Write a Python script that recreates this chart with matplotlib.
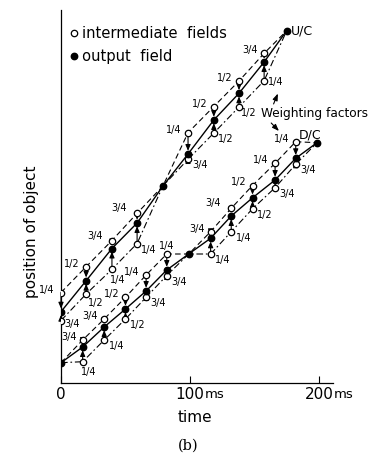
import matplotlib
matplotlib.use("Agg")
import numpy as np
import matplotlib.pyplot as plt
from matplotlib.lines import Line2D

# U/C (up-conversion): output fields ~every 20 ms
uc_time = [0, 19.5, 39.5, 59, 79, 98.5, 118.5, 138, 157.5, 175]
uc_output = [71.3, 102.3, 134.5, 160, 197, 229, 263, 289.7, 321, 352.3]
uc_upper = [90.5, 116.3, 142.5, 169.7, None, 250.3, 276.5, 302, 329.7, None]
uc_lower = [62.5, 89, 113.7, 139.5, None, 223.7, 250, 276, 302.3, None]
uc_upper_w = ["1/4", "1/2", "3/4", "3/4", "", "1/4", "1/2", "1/2", "3/4", ""]
uc_lower_w = ["3/4", "1/2", "1/4", "1/4", "", "3/4", "1/2", "1/2", "1/4", ""]

# D/C (down-conversion): output fields ~every 16.7 ms
dc_time = [0, 16.8, 33.5, 50, 66, 82, 99, 116, 132, 148.5, 166, 182, 198.5]
dc_output = [20.3, 36, 56, 74, 92, 113, 129, 144.7, 167, 185.2, 203, 224.7, 240.3]
dc_upper = [None, 43, 64, 85.7, 108, 129, None, 151.3, 174.7, 197.5, 219.7, 241.3, None]
dc_lower = [None, 21.3, 43, 64, 85.7, 107.5, None, 129, 151.3, 174.2, 195.3, 218.7, None]
dc_upper_w = ["", "3/4", "3/4", "1/2", "1/4", "1/4", "", "3/4", "3/4", "1/2", "1/4", "1/4", ""]
dc_lower_w = ["", "1/4", "1/4", "1/2", "3/4", "3/4", "", "1/4", "1/4", "1/2", "3/4", "3/4", ""]

x_ticks = [0, 100, 200]
x_tick_labels = ["0", "100", "200"]

# label offsets in pixels (default + a few special cases)
UPPER_OFF = (-14, 3)
LOWER_OFF = (12, -6)
special_off = {
    ("dc", "u", 5): (0, 8),
    ("dc", "l", 1): (6, -10),
    ("uc", "l", 0): (11, -3),
    ("uc", "l", 1): (10, -9),
    ("uc", "l", 2): (6, -11),
    ("uc", "l", 7): (10, -6),
    ("uc", "l", 8): (12, -1),
    ("uc", "u", 2): (-17, 5),
    ("uc", "u", 3): (-18, 5),
    ("dc", "u", 8): (-18, 5),
}

DASHED = (0, (5, 3))
DASHDOT = (0, (6, 2.5, 1.5, 2.5))


def draw_group(ax, name, time, out, upper, lower, wu, wl):
    t = np.array(time, dtype=float)
    o = np.array(out, dtype=float)
    u = np.array([np.nan if v is None else v for v in upper])
    l = np.array([np.nan if v is None else v for v in lower])

    # where a field has no intermediate pair, the line passes through the output field
    path_u = np.where(np.isnan(u), o, u)
    path_l = np.where(np.isnan(l), o, l)
    ax.plot(t, path_u, color="black", lw=0.8, ls=DASHED, zorder=2)
    ax.plot(t, path_l, color="black", lw=0.8, ls=DASHDOT, zorder=2)
    ax.plot(t, o, color="black", lw=1.0, zorder=3)

    # arrows from intermediate fields to output field
    for vals in (u, l):
        for ti, vi, oi in zip(t, vals, o):
            if np.isnan(vi):
                continue
            ax.annotate("", xy=(ti, oi), xytext=(ti, vi),
                        arrowprops=dict(arrowstyle="-|>,head_length=0.35,head_width=0.15",
                                        color="black", lw=0.8, shrinkA=0, shrinkB=2.3,
                                        mutation_scale=10),
                        zorder=4)

    ax.plot(t, o, "o", color="black", ms=4.6, zorder=6)
    for vals in (u, l):
        m = ~np.isnan(vals)
        ax.plot(t[m], vals[m], "o", mfc="white", mec="black", mew=0.9, ms=4.6, zorder=5)

    # weighting factors
    for side, vals, ws, off in (("u", u, wu, UPPER_OFF), ("l", l, wl, LOWER_OFF)):
        for i, (ti, vi, w) in enumerate(zip(t, vals, ws)):
            if np.isnan(vi) or not w:
                continue
            dx, dy = special_off.get((name, side, i), off)
            ax.annotate(w, xy=(ti, vi), xytext=(dx, dy), textcoords="offset pixels",
                        ha="center", va="center", fontsize=7, zorder=7)


fig = plt.figure(figsize=(3.73, 4.55), dpi=100)
ax = fig.add_axes([61 / 373, 72 / 455, 272 / 373, 373 / 455])
ax.set_xlim(0, 210.9)
ax.set_ylim(0, 373)
for s in ("top", "right"):
    ax.spines[s].set_visible(False)
for s in ("left", "bottom"):
    ax.spines[s].set_linewidth(0.9)
ax.set_yticks([])
ax.set_xticks(x_ticks)
ax.set_xticklabels(x_tick_labels, fontsize=11)
ax.tick_params(axis="x", direction="in", length=5, width=0.8, pad=3)
for tk in x_ticks[1:]:
    ax.annotate("ms", xy=(tk, 0), xycoords="data", xytext=(15, -11),
                textcoords="offset pixels", ha="left", va="center", fontsize=9.5,
                annotation_clip=False)

draw_group(ax, "uc", uc_time, uc_output, uc_upper, uc_lower, uc_upper_w, uc_lower_w)
draw_group(ax, "dc", dc_time, dc_output, dc_upper, dc_lower, dc_upper_w, dc_lower_w)

ax.annotate("U/C", xy=(uc_time[-1], uc_output[-1]), xytext=(4, 0),
            textcoords="offset pixels", ha="left", va="center", fontsize=9)
ax.annotate("D/C", xy=(dc_time[-1], dc_output[-1]), xytext=(-7, 8),
            textcoords="offset pixels", ha="center", va="center", fontsize=9)

# "Weighting factors" note with two arrows
ax.text(155, 270, "Weighting factors", fontsize=8.7, ha="left", va="center")
ax.annotate("", xy=(169, 292), xytext=(164, 276.5),
            arrowprops=dict(arrowstyle="-|>,head_length=0.4,head_width=0.15",
                            color="black", lw=0.8, mutation_scale=10))
ax.annotate("", xy=(170.5, 250), xytext=(161.5, 262),
            arrowprops=dict(arrowstyle="-|>,head_length=0.4,head_width=0.15",
                            color="black", lw=0.8, mutation_scale=10))

handles = [Line2D([], [], ls="none", marker="o", mfc="white", mec="black", mew=0.9, ms=4.6),
           Line2D([], [], ls="none", marker="o", color="black", ms=4.6)]
ax.legend(handles, ["intermediate  fields", "output  field"], loc="upper left",
          bbox_to_anchor=(0.033, 0.957), frameon=False, fontsize=10.6,
          handlelength=0.5, handletextpad=0.35, labelspacing=0.55,
          borderpad=0, borderaxespad=0)

fig.text(195 / 373, 1 - 418 / 455, "time", fontsize=11, ha="center", va="center")
fig.text(32 / 373, 1 - 232 / 455, "position of object", fontsize=11, rotation=90,
         ha="center", va="center")
fig.text(188 / 373, 1 - 446 / 455, "(b)", fontsize=10.5, ha="center", va="center",
         family="DejaVu Serif")

fig.savefig("out.png", dpi=100)
